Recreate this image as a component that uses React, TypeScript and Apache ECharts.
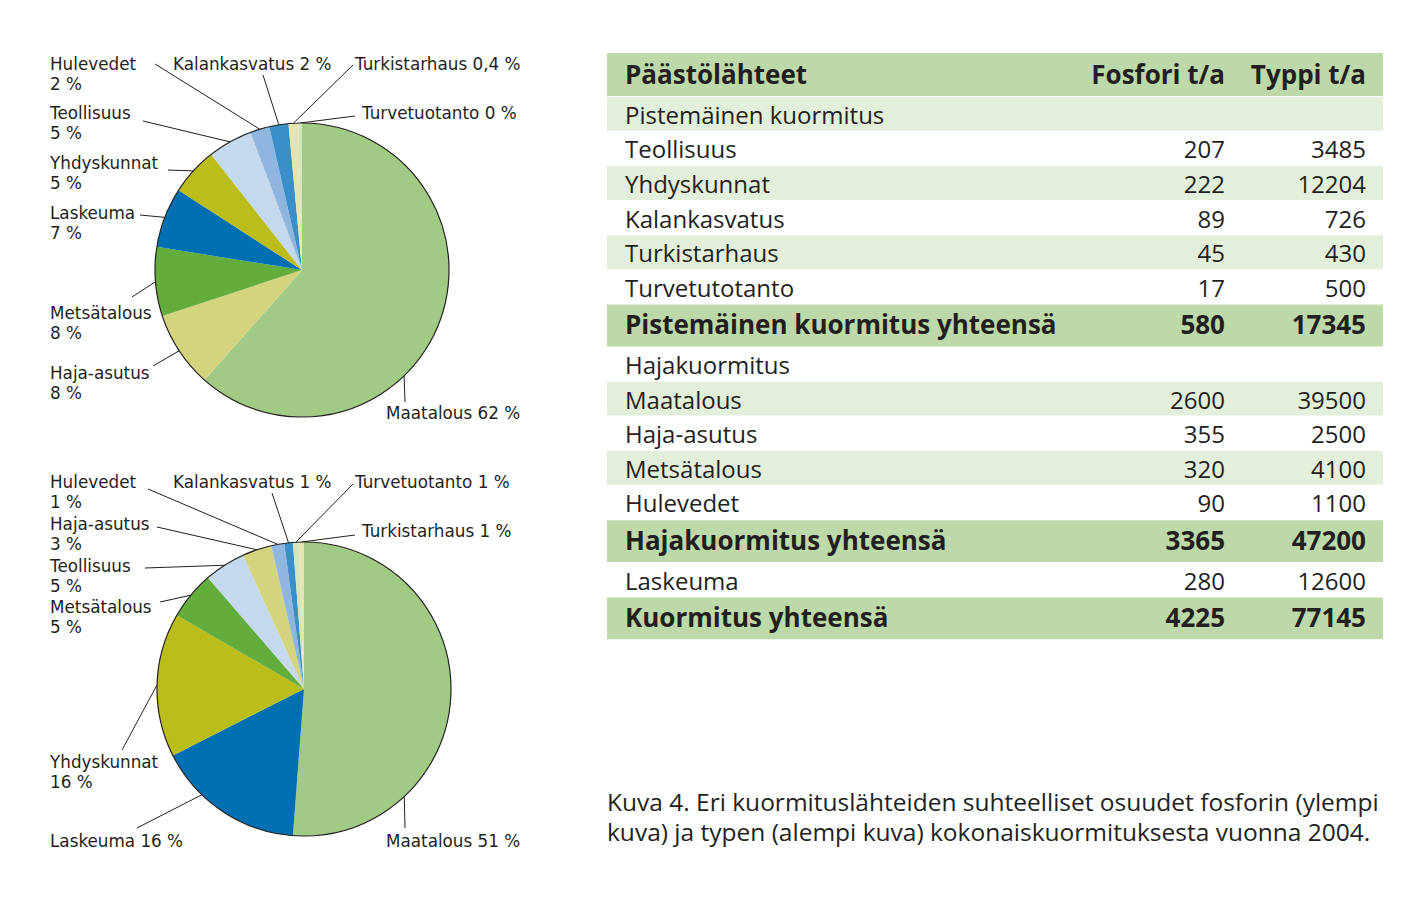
import React, { useEffect, useRef } from 'react';
import * as echarts from 'echarts';

const FONT = '"Open Sans", Lato, "Noto Sans", sans-serif';
const LABEL_FONT = '"DejaVu Sans", "Open Sans", sans-serif';
const INK = '#231f20';
const DARK = '#bdd9a9';
const LIGHT = '#e3efda';

const SLICE_COLORS: Record<string, string> = {
  Maatalous: '#a1cb85',
  'Haja-asutus': '#d4d47e',
  Metsätalous: '#63ad3c',
  Laskeuma: '#0070b2',
  Yhdyskunnat: '#bbbd1a',
  Teollisuus: '#c4d9ed',
  Hulevedet: '#8fb6de',
  Kalankasvatus: '#3a8fc8',
  Turkistarhaus: '#e6e4b0',
  Turvetuotanto: '#d3e5bd',
};

// Fosfori (upper pie)
const P_NAMES = ['Maatalous', 'Haja-asutus', 'Metsätalous', 'Laskeuma', 'Yhdyskunnat', 'Teollisuus', 'Hulevedet', 'Kalankasvatus', 'Turkistarhaus', 'Turvetuotanto'];
const P_VALUES = [2600, 355, 320, 280, 222, 207, 90, 89, 45, 17];
const P_LABELS = ['Maatalous 62 %', 'Haja-asutus\n8 %', 'Metsätalous\n8 %', 'Laskeuma\n7 %', 'Yhdyskunnat\n5 %', 'Teollisuus\n5 %', 'Hulevedet\n2 %', 'Kalankasvatus 2 %', 'Turkistarhaus 0,4 %', 'Turvetuotanto 0 %'];

// Typpi (lower pie)
const N_NAMES = ['Maatalous', 'Laskeuma', 'Yhdyskunnat', 'Metsätalous', 'Teollisuus', 'Haja-asutus', 'Hulevedet', 'Kalankasvatus', 'Turvetuotanto', 'Turkistarhaus'];
const N_VALUES = [39500, 12600, 12204, 4100, 3485, 2500, 1100, 726, 500, 430];
const N_LABELS = ['Maatalous 51 %', 'Laskeuma 16 %', 'Yhdyskunnat\n16 %', 'Metsätalous\n5 %', 'Teollisuus\n5 %', 'Haja-asutus\n3 %', 'Hulevedet\n1 %', 'Kalankasvatus 1 %', 'Turvetuotanto 1 %', 'Turkistarhaus 1 %'];

// Table
const TABLE_HEAD = ['Päästölähteet', 'Fosfori t/a', 'Typpi t/a'];
const ROW_NAMES = ['Pistemäinen kuormitus', 'Teollisuus', 'Yhdyskunnat', 'Kalankasvatus', 'Turkistarhaus', 'Turvetutotanto', 'Pistemäinen kuormitus yhteensä', 'Hajakuormitus', 'Maatalous', 'Haja-asutus', 'Metsätalous', 'Hulevedet', 'Hajakuormitus yhteensä', 'Laskeuma', 'Kuormitus yhteensä'];
const ROW_P: (number | null)[] = [null, 207, 222, 89, 45, 17, 580, null, 2600, 355, 320, 90, 3365, 280, 4225];
const ROW_N: (number | null)[] = [null, 3485, 12204, 726, 430, 500, 17345, null, 39500, 2500, 4100, 1100, 47200, 12600, 77145];
const ROW_KIND = ['light', 'white', 'light', 'white', 'light', 'white', 'total', 'white', 'light', 'white', 'light', 'white', 'total', 'white', 'total'];

const CAPTION = [
  'Kuva 4. Eri kuormituslähteiden suhteelliset osuudet fosforin (ylempi',
  'kuva) ja typen (alempi kuva) kokonaiskuormituksesta vuonna 2004.',
];

// ---- layout (positions only) ----
const P_CENTER: [number, number] = [302, 270];
const N_CENTER: [number, number] = [304, 689];
const R = 147;
// [labelX, firstLineCenterY, lineEndX, lineEndY, anchorDeg | null]
const P_LAYOUT: [number, number, number, number, number | null][] = [
  [386, 412, 405, 402, 136],
  [50, 372, 153, 366, null],
  [50, 312, 132, 297, null],
  [50, 212, 140, 215, null],
  [50, 162, 168, 170, null],
  [50, 112, 143, 121, null],
  [50, 63, 155, 64, null],
  [173, 63, 263, 75, null],
  [355, 63, 353, 65, null],
  [362, 112, 355, 116, null],
];
const N_LAYOUT: [number, number, number, number, number | null][] = [
  [386, 840, 405, 828, 137],
  [50, 840, 137, 828, 224],
  [50, 761, 122, 750, null],
  [50, 606, 160, 602, null],
  [50, 565, 145, 568, null],
  [50, 523, 157, 527, null],
  [50, 481, 148, 489, null],
  [173, 481, 272, 493, null],
  [355, 481, 353, 484, null],
  [362, 530, 355, 535, null],
];
const LABEL_FS = 16.8;
const LABEL_LH = 20;

function midDeg(values: number[], i: number) {
  const total = values.reduce((a, b) => a + b, 0);
  let before = 0;
  for (let k = 0; k < i; k++) before += values[k];
  return ((before + values[i] / 2) / total) * 360;
}

function makeLayout(layout: typeof P_LAYOUT, values: number[], center: [number, number]) {
  return (params: any) => {
    const c = layout[params.dataIndex];
    const deg = c[4] != null ? c[4] : midDeg(values, params.dataIndex);
    const a = (deg * Math.PI) / 180;
    const p0 = [center[0] + R * Math.sin(a), center[1] - R * Math.cos(a)];
    return {
      x: c[0],
      y: c[1] - LABEL_LH / 2 + 0.5,
      align: 'left',
      verticalAlign: 'top',
      labelLinePoints: [p0, [c[2], c[3]]],
    };
  };
}

function pieSeries(names: string[], values: number[], labels: string[], center: [number, number], layout: typeof P_LAYOUT) {
  return [
    {
      type: 'pie',
      center,
      radius: R,
      startAngle: 90,
      clockwise: true,
      avoidLabelOverlap: false,
      silent: true,
      data: names.map((n, i) => ({ name: n, value: values[i], itemStyle: { color: SLICE_COLORS[n] } })),
      itemStyle: { borderWidth: 0 },
      label: {
        show: true,
        position: 'outside',
        formatter: (p: any) => labels[p.dataIndex],
        color: INK,
        fontSize: LABEL_FS,
        lineHeight: LABEL_LH,
        fontFamily: LABEL_FONT,
      },
      labelLine: { show: true, length: 8, length2: 8, smooth: false, lineStyle: { color: INK, width: 1 } },
      labelLayout: makeLayout(layout, values, center),
      emphasis: { disabled: true },
    },
    {
      type: 'pie',
      center,
      radius: R,
      silent: true,
      z: 5,
      label: { show: false },
      labelLine: { show: false },
      emphasis: { disabled: true },
      data: [{ value: 1, itemStyle: { color: 'rgba(0,0,0,0)', borderColor: INK, borderWidth: 1.2 } }],
    },
  ];
}

function txt(text: string, x: number, y: number, size: number, bold: boolean, align: string) {
  return {
    type: 'text',
    x,
    y,
    silent: true,
    style: {
      text,
      fill: INK,
      fontSize: size,
      fontWeight: bold ? 'bold' : 'normal',
      fontFamily: FONT,
      align,
      textAlign: align,
      verticalAlign: 'middle',
      textVerticalAlign: 'middle',
    },
  };
}

function tableGraphics() {
  const X0 = 607;
  const W = 776;
  const COL_NAME = 625;
  const COL_P = 1225;
  const COL_N = 1366;
  const FS = 24;
  const FS_B = 26;
  const REG_H = 34.6;
  const TOT_H = 42.6;
  const els: any[] = [];
  els.push({ type: 'rect', silent: true, shape: { x: X0, y: 53, width: W, height: 43 }, style: { fill: DARK } });
  const hy = 74;
  els.push(txt(TABLE_HEAD[0], COL_NAME, hy, FS_B, true, 'left'));
  els.push(txt(TABLE_HEAD[1], COL_P, hy, FS_B, true, 'right'));
  els.push(txt(TABLE_HEAD[2], COL_N, hy, FS_B, true, 'right'));
  let y = 97;
  ROW_NAMES.forEach((name, i) => {
    const kind = ROW_KIND[i];
    const h = kind === 'total' ? TOT_H : REG_H;
    if (kind !== 'white') {
      els.push({
        type: 'rect',
        silent: true,
        shape: { x: X0, y, width: W, height: h - 0.8 },
        style: { fill: kind === 'total' ? DARK : LIGHT },
      });
    }
    const cy = kind === 'total' ? y + h / 2 - 2 : y + h / 2;
    const bold = kind === 'total';
    const fs = bold ? FS_B : FS;
    els.push(txt(name, COL_NAME, cy, fs, bold, 'left'));
    if (ROW_P[i] != null) els.push(txt(String(ROW_P[i]), COL_P, cy, fs, bold, 'right'));
    if (ROW_N[i] != null) els.push(txt(String(ROW_N[i]), COL_N, cy, fs, bold, 'right'));
    y += h;
  });
  CAPTION.forEach((line, i) => {
    els.push(txt(line, 607, 801 + i * 30, 24.5, false, 'left'));
  });
  return els;
}

export default function App() {
  const ref = useRef<HTMLDivElement>(null);
  useEffect(() => {
    if (!ref.current) return;
    const chart = echarts.init(ref.current, undefined, { renderer: 'svg' });
    chart.setOption({
      animation: false,
      backgroundColor: '#ffffff',
      series: [
        ...pieSeries(P_NAMES, P_VALUES, P_LABELS, P_CENTER, P_LAYOUT),
        ...pieSeries(N_NAMES, N_VALUES, N_LABELS, N_CENTER, N_LAYOUT),
      ],
      graphic: { elements: tableGraphics() },
    });
    return () => chart.dispose();
  }, []);
  return <div ref={ref} style={{ position: 'absolute', left: 0, top: 0, width: 1421, height: 899 }} />;
}
